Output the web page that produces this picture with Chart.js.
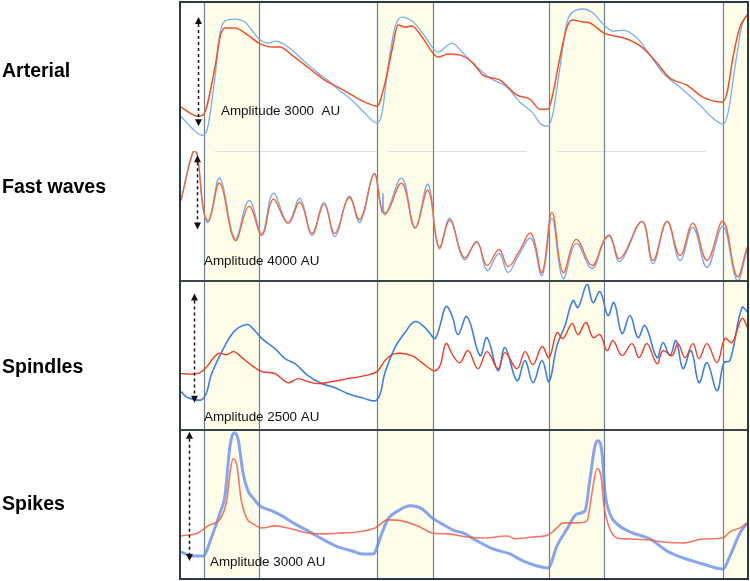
<!DOCTYPE html>
<html>
<head>
<meta charset="utf-8">
<script src="https://cdn.jsdelivr.net/npm/chart.js@4.4.1/dist/chart.umd.min.js"></script>
<style>
  html, body { margin: 0; padding: 0; background: #fff; }
  #wrap { width: 750px; height: 581px; }
</style>
</head>
<body>
<div id="wrap"><canvas id="traces" width="750" height="581"></canvas></div>
<script>
// Time window (samples)
const timeMin = 0;
const timeMax = 568;

// Cardiac cycle markers
const cycleLines = [24, 79, 197, 253, 369, 424, 543];
const systoleWindows = [[24, 79], [197, 253], [369, 424], [543, 568]];

// Panel names and value ranges (AU, scaled)
const panelNames = ['Arterial', 'Fast waves', 'Spindles', 'Spikes'];
const panelRanges = [149, 130, 148, 149];
const amplitudeLabels = ['Amplitude 3000  AU', 'Amplitude 4000 AU', 'Amplitude 2500 AU', 'Amplitude 3000 AU'];
const amplitudeSpans = [[134, 25], [126, 52], [136, 27], [147, 18]];

// Arterial signal  [t, value]
const arterialRed = [[1,44],[18,35],[23,36],[35,84],[40,114],[45,123],[55,123],[65,118],[79,108],[92,104],[100,104],[112,96],[125,86],[138,76],[148,69],[158,64],[172,56],[185,49],[197,45],[205,68],[212,101],[218,126],[225,124],[232,125],[242,114],[253,98],[258,94],[268,97],[283,95],[293,88],[303,76],[320,71],[337,56],[350,52],[360,42],[368,42],[373,58],[380,94],[387,124],[392,131],[403,129],[410,128],[424,118],[430,116],[447,112],[463,103],[477,88],[490,73],[507,66],[523,54],[542,49],[547,58],[553,94],[560,124],[568,137]];
const arterialBlue = [[1,35],[12,23],[22,16],[27,21],[35,74],[40,118],[45,130],[55,132],[65,129],[79,112],[88,108],[95,110],[102,108],[112,101],[125,89],[138,78],[148,71],[158,62],[172,51],[185,38],[197,28],[202,38],[208,84],[215,124],[222,134],[232,130],[242,119],[253,103],[258,99],[272,108],[283,98],[297,84],[310,73],[327,64],[340,49],[353,38],[360,28],[368,25],[373,38],[380,84],[387,129],[393,139],[403,142],[413,138],[424,126],[433,120],[443,121],[457,113],[470,96],[483,78],[500,64],[517,49],[533,33],[543,27],[548,38],[555,84],[562,126],[568,138]];

// Fast waves
const fastRed = [[1,81],[13,129],[17,128],[23,74],[27,61],[30,63],[40,98],[55,41],[69,75],[82,46],[93,82],[108,58],[120,79],[132,48],[144,77],[155,48],[169,84],[180,62],[194,107],[202,71],[207,69],[222,98],[235,54],[248,91],[259,34],[270,61],[284,24],[297,39],[307,16],[319,32],[328,15],[338,28],[351,48],[362,9],[372,69],[383,9],[396,42],[412,16],[424,41],[430,46],[440,23],[462,60],[473,21],[487,60],[500,26],[513,58],[527,21],[543,60],[557,5],[567,34]];
const fastBlue = [[1,81],[13,130],[17,128],[23,74],[27,59],[30,63],[40,103],[55,43],[69,81],[82,48],[93,88],[108,59],[120,83],[132,46],[144,79],[155,45],[169,85],[180,59],[194,108],[202,69],[203,88],[204,67],[207,69],[222,103],[235,53],[248,97],[259,33],[270,63],[284,22],[297,40],[307,11],[319,28],[328,9],[338,25],[351,43],[362,6],[372,63],[383,3],[396,38],[412,13],[424,40],[430,45],[440,20],[462,60],[473,18],[487,60],[500,21],[513,54],[527,14],[543,55],[557,1],[567,31]];
const fastGuides = [[35, 198], [208, 347], [377, 526]];

// Spindles
const spindleRed = [[1,56],[17,56],[25,61],[38,76],[47,75],[54,78],[62,72],[72,64],[82,58],[95,56],[108,47],[118,51],[128,48],[138,46],[152,48],[168,51],[185,54],[197,58],[205,69],[215,76],[232,74],[242,67],[254,59],[260,64],[266,86],[273,74],[280,67],[288,79],[298,61],[307,78],[318,61],[325,77],[337,61],[345,78],[353,65],[362,83],[369,72],[377,97],[383,91],[392,106],[398,95],[406,107],[413,92],[420,95],[427,79],[433,89],[442,74],[452,86],[459,72],[467,86],[477,66],[483,79],[492,74],[498,86],[505,72],[513,86],[519,71],[527,86],[537,67],[545,91],[552,87],[562,111],[568,101]];
const spindleBlue = [[1,38],[8,32],[23,31],[32,57],[45,84],[55,99],[67,105],[72,102],[82,91],[95,81],[105,71],[115,66],[128,54],[142,46],[155,42],[168,36],[182,32],[197,30],[205,57],[215,82],[225,97],[235,108],[245,102],[250,96],[255,91],[260,104],[266,123],[272,114],[278,95],[287,113],[300,74],[307,92],[318,59],[325,82],[337,49],[345,69],[353,47],[362,69],[369,48],[377,84],[385,104],[393,129],[398,122],[407,145],[413,127],[420,138],[428,114],[434,127],[442,96],[450,114],[458,92],[465,104],[477,72],[483,87],[490,74],[496,89],[503,61],[511,79],[519,47],[527,67],[537,39],[544,67],[550,69],[562,122],[568,117]];

// Spikes
const spikeRed = [[1,43],[18,46],[28,53],[42,63],[47,80],[50,106],[53,120],[57,113],[61,80],[67,60],[73,55],[82,51],[95,53],[112,50],[128,46],[145,45],[162,46],[178,47],[195,51],[208,59],[222,58],[238,53],[252,46],[268,45],[287,42],[303,41],[328,43],[335,40],[353,42],[368,44],[377,51],[383,56],[397,56],[407,58],[412,86],[417,110],[421,103],[424,73],[428,55],[437,41],[450,40],[470,39],[483,37],[503,36],[523,40],[543,41],[550,47],[560,51],[568,56]];
const spikeBlue = [[1,27],[12,23],[23,23],[32,43],[40,66],[45,83],[50,133],[54,146],[58,140],[63,106],[68,88],[73,81],[80,73],[92,68],[102,63],[115,55],[128,48],[142,40],[158,32],[172,28],[182,25],[193,25],[202,46],[208,60],[218,68],[230,73],[242,70],[252,61],[262,55],[275,48],[283,46],[297,38],[313,30],[330,25],[343,18],[357,13],[368,11],[377,33],[387,50],[397,65],[405,68],[410,100],[415,133],[418,138],[422,126],[425,86],[430,65],[437,55],[450,47],[470,40],[487,28],[503,21],[523,15],[543,10],[550,23],[560,46],[567,56]];

const panelAxes = ['yArt', 'yFast', 'ySpin', 'ySpk'];

// where the labels / arrows sit (page layout, not data)
const labelBaselines = [77, 193, 373, 510];
const arrowT = [18, 17, 14, 9];
const textT = [41, 24, 24, 30];
const textV = [36, 16, 9, 13];

function pts(arr) {
    return arr.map(p => ({ x: p[0], y: p[1] }));
}

// smooth = true -> bezier tension (oscillating traces), else monotone
function trace(data, axis, color, width, order, smooth) {
    const ds = {
        data: pts(data),
        yAxisID: axis,
        borderColor: color,
        borderWidth: width,
        pointRadius: 0,
        fill: false,
        order: order
    };
    if (smooth) {
        ds.tension = 0.4;
    } else {
        ds.cubicInterpolationMode = 'monotone';
    }
    return ds;
}

function drawArrow(ctx, x, yTop, yBot) {
    const head = 7;
    ctx.save();
    ctx.strokeStyle = '#111';
    ctx.fillStyle = '#111';
    ctx.lineWidth = 1.5;
    ctx.setLineDash([3, 3]);
    ctx.beginPath();
    ctx.moveTo(x, yTop + head);
    ctx.lineTo(x, yBot - head);
    ctx.stroke();
    ctx.setLineDash([]);
    ctx.beginPath();
    ctx.moveTo(x, yTop);
    ctx.lineTo(x - 3.5, yTop + head);
    ctx.lineTo(x + 3.5, yTop + head);
    ctx.closePath();
    ctx.fill();
    ctx.beginPath();
    ctx.moveTo(x, yBot);
    ctx.lineTo(x - 3.5, yBot - head);
    ctx.lineTo(x + 3.5, yBot - head);
    ctx.closePath();
    ctx.fill();
    ctx.restore();
}

const figureDecor = {
    id: 'figureDecor',
    beforeDatasetsDraw(chart) {
        const { ctx, chartArea: a, scales } = chart;
        const xs = scales.x;
        ctx.save();
        // shaded windows
        ctx.fillStyle = '#fdfde9';
        systoleWindows.forEach(w => {
            const x0 = xs.getPixelForValue(w[0]);
            const x1 = xs.getPixelForValue(w[1]);
            ctx.fillRect(x0, a.top, x1 - x0, a.bottom - a.top);
        });
        // faint guide at top of fast waves panel
        ctx.strokeStyle = '#e0e0e0';
        ctx.lineWidth = 1;
        const yg = Math.round(scales.yFast.top) + 0.5;
        fastGuides.forEach(g => {
            ctx.beginPath();
            ctx.moveTo(xs.getPixelForValue(g[0]), yg);
            ctx.lineTo(xs.getPixelForValue(g[1]), yg);
            ctx.stroke();
        });
        // cycle lines
        ctx.strokeStyle = '#6f818c';
        ctx.lineWidth = 1.2;
        cycleLines.forEach(t => {
            const px = Math.round(xs.getPixelForValue(t)) + 0.5;
            ctx.beginPath();
            ctx.moveTo(px, a.top);
            ctx.lineTo(px, a.bottom);
            ctx.stroke();
        });
        ctx.restore();
    },
    afterDatasetsDraw(chart) {
        const { ctx, chartArea: a, scales } = chart;
        const xs = scales.x;
        ctx.save();
        // panel separators
        ctx.strokeStyle = '#3c4449';
        ctx.lineWidth = 2;
        ['ySpin', 'ySpk'].forEach(id => {
            const y = Math.round(scales[id].top);
            ctx.beginPath();
            ctx.moveTo(a.left, y);
            ctx.lineTo(a.right, y);
            ctx.stroke();
        });
        // outer frame
        ctx.strokeStyle = '#2b3a44';
        ctx.lineWidth = 2;
        ctx.strokeRect(a.left, a.top, a.right - a.left, a.bottom - a.top);

        // amplitude arrows and text
        panelAxes.forEach((id, i) => {
            const ys = scales[id];
            const x = Math.round(xs.getPixelForValue(arrowT[i])) + 0.5;
            drawArrow(ctx, x, ys.getPixelForValue(amplitudeSpans[i][0]), ys.getPixelForValue(amplitudeSpans[i][1]));
            ctx.fillStyle = '#111';
            ctx.font = '13.4px "Liberation Sans", Arial, sans-serif';
            ctx.textAlign = 'left';
            ctx.textBaseline = 'alphabetic';
            ctx.fillText(amplitudeLabels[i], xs.getPixelForValue(textT[i]), ys.getPixelForValue(textV[i]));
        });

        // panel names on the left
        ctx.fillStyle = '#000';
        ctx.font = 'bold 19.5px "Liberation Sans", Arial, sans-serif';
        panelNames.forEach((name, i) => {
            ctx.fillText(name, 2, labelBaselines[i]);
        });
        ctx.restore();
    }
};

function yAxis(range) {
    return {
        type: 'linear',
        position: 'right',
        stack: 'panels',
        stackWeight: range,
        min: 0,
        max: range,
        display: false
    };
}

const ctx = document.getElementById('traces').getContext('2d');
const chart = new Chart(ctx, {
    type: 'line',
    data: {
        datasets: [
            trace(arterialBlue, 'yArt', '#7aaef0', 1.3, 2, false),
            trace(arterialRed, 'yArt', '#ef5128', 1.5, 1, false),
            trace(fastBlue, 'yFast', '#83a8f2', 1.4, 2, true),
            trace(fastRed, 'yFast', '#f06a3e', 1.4, 1, true),
            trace(spindleBlue, 'ySpin', '#3f7fe2', 1.6, 2, true),
            trace(spindleRed, 'ySpin', '#f03a26', 1.4, 1, true),
            trace(spikeBlue, 'ySpk', 'rgba(95,135,235,0.75)', 3, 2, false),
            trace(spikeRed, 'ySpk', 'rgba(240,95,75,0.85)', 1.6, 1, false)
        ]
    },
    options: {
        responsive: false,
        animation: false,
        layout: { padding: { left: 180, right: 2, top: 2, bottom: 2 } },
        plugins: {
            legend: { display: false },
            tooltip: { enabled: false }
        },
        scales: {
            x: { type: 'linear', min: timeMin, max: timeMax, display: false },
            yArt: yAxis(panelRanges[0]),
            yFast: yAxis(panelRanges[1]),
            ySpin: yAxis(panelRanges[2]),
            ySpk: yAxis(panelRanges[3])
        }
    },
    plugins: [figureDecor]
});
</script>
</body>
</html>
